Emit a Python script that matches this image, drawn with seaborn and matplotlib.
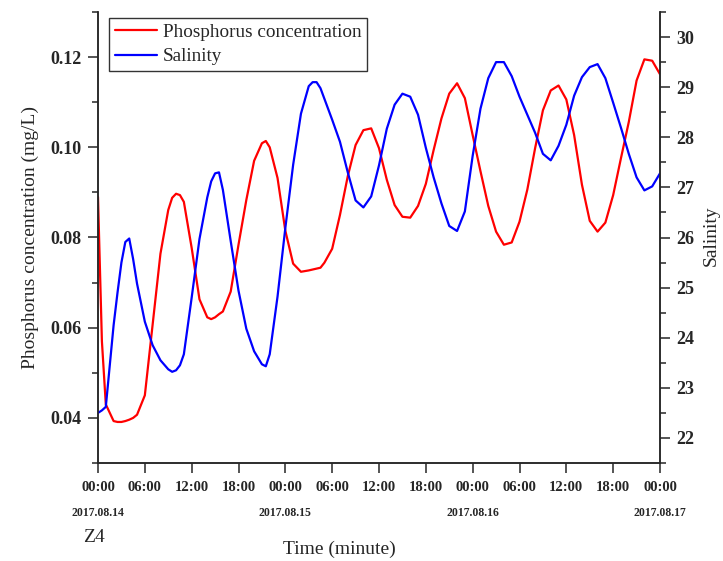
import numpy as np
import pandas as pd
import matplotlib
matplotlib.use("Agg")
import matplotlib.pyplot as plt
from matplotlib.ticker import MultipleLocator, FixedLocator
import seaborn as sns

# Données (heures depuis 2017.08.14 00:00)
hours = [0, 0.5, 1, 2, 2.5, 3, 3.5, 4, 4.5, 5, 6, 7, 8, 9, 9.5, 10, 10.5, 11, 12, 13,
         14, 14.5, 15, 15.5, 16, 17, 18, 19, 20, 21, 21.5, 22, 23, 24, 25, 26, 27, 27.5,
         28, 28.5] + list(range(29, 73))

phosphorus = [
    0.089, 0.057, 0.043, 0.0393, 0.0391, 0.0391, 0.0393, 0.0396, 0.0400, 0.0407,
    0.045, 0.0607, 0.0764, 0.0861, 0.0888, 0.0897, 0.0894, 0.0879, 0.0777, 0.0663,
    0.0623, 0.0619, 0.0623, 0.0630, 0.0636, 0.0680, 0.0784, 0.0883, 0.0970, 0.1009,
    0.1014, 0.1000, 0.0932, 0.0815, 0.0742, 0.0724, 0.0727, 0.0729, 0.0731, 0.0733,
    0.0744, 0.0775, 0.0850, 0.0936, 0.1005, 0.1038, 0.1042, 0.0998, 0.0928, 0.0872,
    0.0846, 0.0844, 0.0870, 0.0919, 0.0994, 0.1064, 0.1119, 0.1142, 0.1109, 0.1027,
    0.0947, 0.0870, 0.0813, 0.0784, 0.0789, 0.0835, 0.0906, 0.0998, 0.1082, 0.1126,
    0.1137, 0.1106, 0.1027, 0.0917, 0.0837, 0.0813, 0.0833, 0.0894, 0.0976, 0.1056,
    0.1148, 0.1195, 0.1192, 0.1162,
]

salinity = [
    22.50, 22.55, 22.62, 24.25, 24.90, 25.50, 25.91, 25.98, 25.57, 25.08,
    24.32, 23.85, 23.55, 23.37, 23.32, 23.35, 23.45, 23.67, 24.80, 25.97,
    26.80, 27.12, 27.28, 27.30, 26.95, 25.93, 24.94, 24.18, 23.73, 23.47,
    23.43, 23.67, 24.82, 26.19, 27.45, 28.47, 29.02, 29.10, 29.10, 28.98,
    28.77, 28.35, 27.91, 27.30, 26.74, 26.60, 26.82, 27.44, 28.17, 28.65,
    28.87, 28.81, 28.45, 27.79, 27.20, 26.68, 26.23, 26.13, 26.52, 27.63,
    28.57, 29.18, 29.50, 29.50, 29.22, 28.81, 28.45, 28.09, 27.67, 27.54,
    27.83, 28.25, 28.83, 29.20, 29.40, 29.46, 29.18, 28.69, 28.19, 27.67,
    27.20, 26.94, 27.02, 27.28,
]

tick_hours = list(range(0, 73, 6))
tick_labels = ["00:00", "06:00", "12:00", "18:00"] * 3 + ["00:00"]
date_hours = [0, 24, 48, 72]
date_labels = ["2017.08.14", "2017.08.15", "2017.08.16", "2017.08.17"]

df = pd.DataFrame({"hour": hours, "phosphorus": phosphorus, "salinity": salinity})

sns.set_style("ticks")
plt.rcParams["font.family"] = ["Liberation Serif", "DejaVu Serif"]
plt.rcParams["axes.linewidth"] = 1.1

fig = plt.figure(figsize=(7.23, 5.61), dpi=100)
ax = fig.add_axes([98 / 723, 98 / 561, 562 / 723, 451 / 561])
ax2 = ax.twinx()

sns.lineplot(data=df, x="hour", y="phosphorus", ax=ax, color="#ff0000", linewidth=1.6,
             label="Phosphorus concentration", legend=False)
sns.lineplot(data=df, x="hour", y="salinity", ax=ax2, color="#0000ff", linewidth=1.6,
             label="Salinity", legend=False)

ax.set_xlim(0, 72)
ax.set_ylim(0.03, 0.13)
ax2.set_ylim(21.5, 30.5)

# Axe des x
ax.xaxis.set_major_locator(FixedLocator(tick_hours))
ax.set_xticklabels(tick_labels, fontsize=10.5, fontweight="bold")
ax.tick_params(axis="x", direction="out", length=7, width=1.1, pad=6)
for h, d in zip(date_hours, date_labels):
    ax.text(h / 72, -0.11, d, transform=ax.transAxes, ha="center", va="center",
            fontsize=8.5, fontweight="bold")

# Axe gauche
ax.set_yticks([0.04, 0.06, 0.08, 0.10, 0.12])
ax.yaxis.set_minor_locator(MultipleLocator(0.01))
ax.set_yticklabels(["0.04", "0.06", "0.08", "0.10", "0.12"], fontsize=13, fontweight="bold")
ax.tick_params(axis="y", which="major", direction="out", length=7, width=1.1, pad=5)
ax.tick_params(axis="y", which="minor", direction="out", length=4, width=1.1)

# Axe droit
ax2.set_yticks(range(22, 31))
ax2.yaxis.set_minor_locator(MultipleLocator(0.5))
ax2.set_yticklabels([str(v) for v in range(22, 31)], fontsize=13, fontweight="bold")
ax2.tick_params(axis="y", which="major", direction="out", length=7, width=1.1, pad=5)
ax2.tick_params(axis="y", which="minor", direction="out", length=4, width=1.1)

for a in (ax, ax2):
    a.spines["top"].set_visible(False)
ax2.spines["right"].set_visible(True)
ax2.spines["right"].set_linewidth(1.1)

ax.set_ylabel("Phosphorus concentration (mg/L)", fontsize=14)
ax.yaxis.set_label_coords(-0.105, 0.5)
ax2.set_ylabel("Salinity", fontsize=14)
ax2.yaxis.set_label_coords(1.076, 0.505)
ax.set_xlabel("Time (minute)", fontsize=14)
ax.xaxis.set_label_coords(0.43, -0.172)

fig.text(94 / 723, 1 - 537 / 561, "Z4", fontsize=14, ha="center", va="center")

# Légende
handles = ax.get_lines()[:1] + ax2.get_lines()[:1]
leg = fig.legend(handles, ["Phosphorus concentration", "Salinity"], loc="upper left",
                 bbox_to_anchor=(109 / 723, 1 - 18 / 561), borderaxespad=0,
                 fontsize=13.8, frameon=True, fancybox=False, handlelength=2.2,
                 handletextpad=0.3, labelspacing=0.35, borderpad=0.3)
leg.get_frame().set_edgecolor("black")
leg.get_frame().set_linewidth(1.0)

fig.savefig("out.png", dpi=100)
